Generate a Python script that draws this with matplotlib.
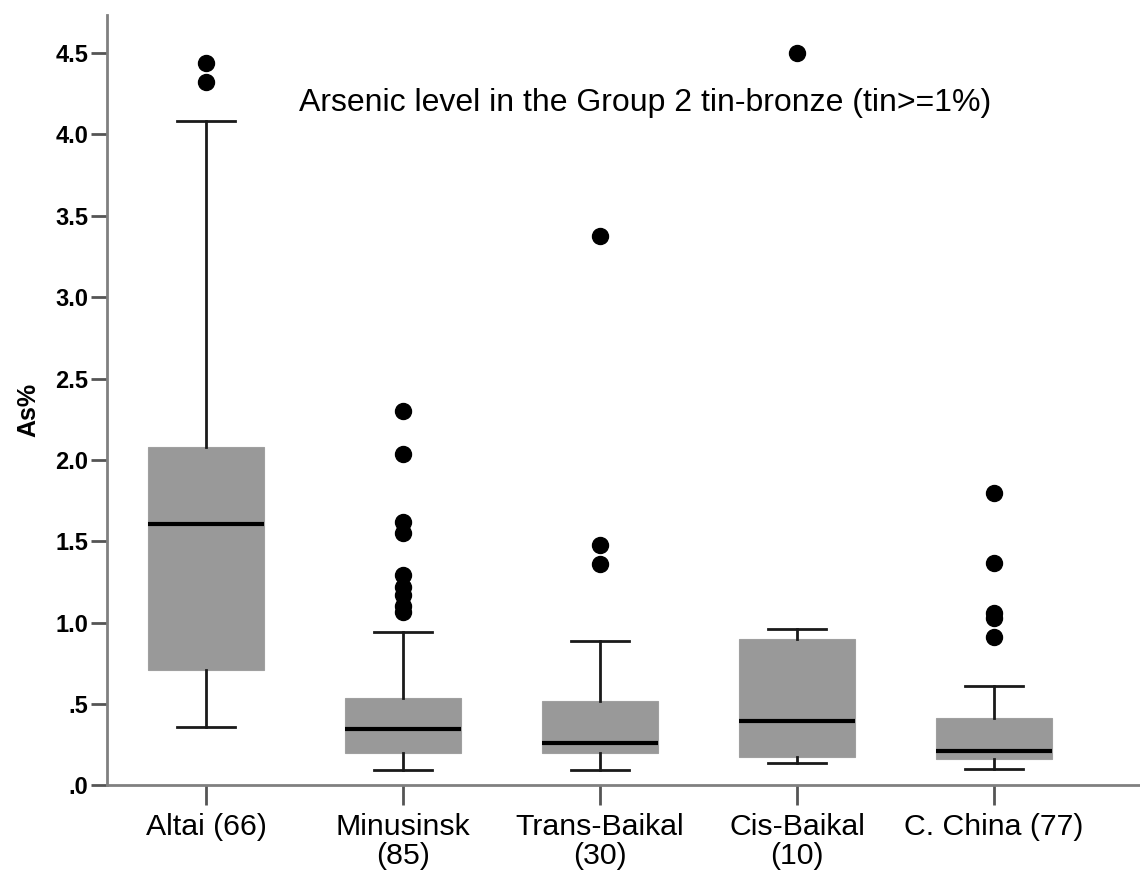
import matplotlib
matplotlib.use("Agg")
import matplotlib.pyplot as plt

# Arsenic (As%) summaries for Group 2 tin-bronze by region
categories = ["Altai (66)", "Minusinsk\n(85)", "Trans-Baikal\n(30)", "Cis-Baikal\n(10)", "C. China (77)"]
whisker_low = [0.36, 0.095, 0.095, 0.136, 0.10]
q1 = [0.71, 0.20, 0.20, 0.177, 0.163]
median = [1.605, 0.347, 0.263, 0.396, 0.212]
q3 = [2.08, 0.536, 0.52, 0.898, 0.413]
whisker_high = [4.08, 0.945, 0.886, 0.961, 0.613]
outliers = [
    [4.44, 4.32],
    [2.30, 2.034, 1.62, 1.549, 1.29, 1.22, 1.17, 1.10, 1.066],
    [3.373, 1.479, 1.362],
    [4.50],
    [1.795, 1.369, 1.06, 1.03, 0.914],
]
yticks = [0.0, 0.5, 1.0, 1.5, 2.0, 2.5, 3.0, 3.5, 4.0, 4.5]
ytick_labels = [".0", ".5", "1.0", "1.5", "2.0", "2.5", "3.0", "3.5", "4.0", "4.5"]
title = "Arsenic level in the Group 2 tin-bronze (tin>=1%)"
ylabel = "As%"

plt.rcParams["font.family"] = ["Liberation Sans", "DejaVu Sans"]

fig = plt.figure(figsize=(11.4, 8.72), dpi=100)
ax = fig.add_axes([0.0939, 0.0992, 1 - 0.0939, 0.8836])

stats = []
for i, name in enumerate(categories):
    stats.append({
        "label": name,
        "whislo": whisker_low[i],
        "q1": q1[i],
        "med": median[i],
        "q3": q3[i],
        "whishi": whisker_high[i],
        "fliers": outliers[i],
    })

positions = list(range(len(categories)))
ax.bxp(
    stats,
    positions=positions,
    widths=0.59,
    patch_artist=True,
    showfliers=True,
    boxprops=dict(facecolor="#999999", edgecolor="#a0a0a0", linewidth=0.8),
    medianprops=dict(color="black", linewidth=3.0, solid_capstyle="butt"),
    whiskerprops=dict(color="#1a1a1a", linewidth=2.0),
    capprops=dict(color="#1a1a1a", linewidth=2.0),
    capwidths=0.295,
    flierprops=dict(marker="o", markerfacecolor="black", markeredgecolor="black",
                    markersize=11.5, linestyle="none"),
)

ax.set_xlim(-0.5025, 4.741)
ax.set_ylim(0, 4.733)

ax.set_yticks(yticks)
ax.set_yticklabels(ytick_labels, fontsize=17, fontweight="bold")
ax.set_xticks(positions)
ax.set_xticklabels(categories, fontsize=21.8, linespacing=1.05)

ax.tick_params(axis="y", length=11.5, width=2.0, color="#555555", pad=2)
ax.tick_params(axis="x", length=14.5, width=2.0, color="#555555", pad=5)

for side in ("top", "right"):
    ax.spines[side].set_visible(False)
for side in ("left", "bottom"):
    ax.spines[side].set_color("#808080")
    ax.spines[side].set_linewidth(2.0)

ax.set_ylabel(ylabel, fontsize=18, fontweight="bold")
ax.yaxis.set_label_coords(-0.0648, 0.487)

ax.text(2.23, 4.19, title, fontsize=23, ha="center", va="center", color="black")

fig.savefig("out.png", dpi=100, facecolor="white")
